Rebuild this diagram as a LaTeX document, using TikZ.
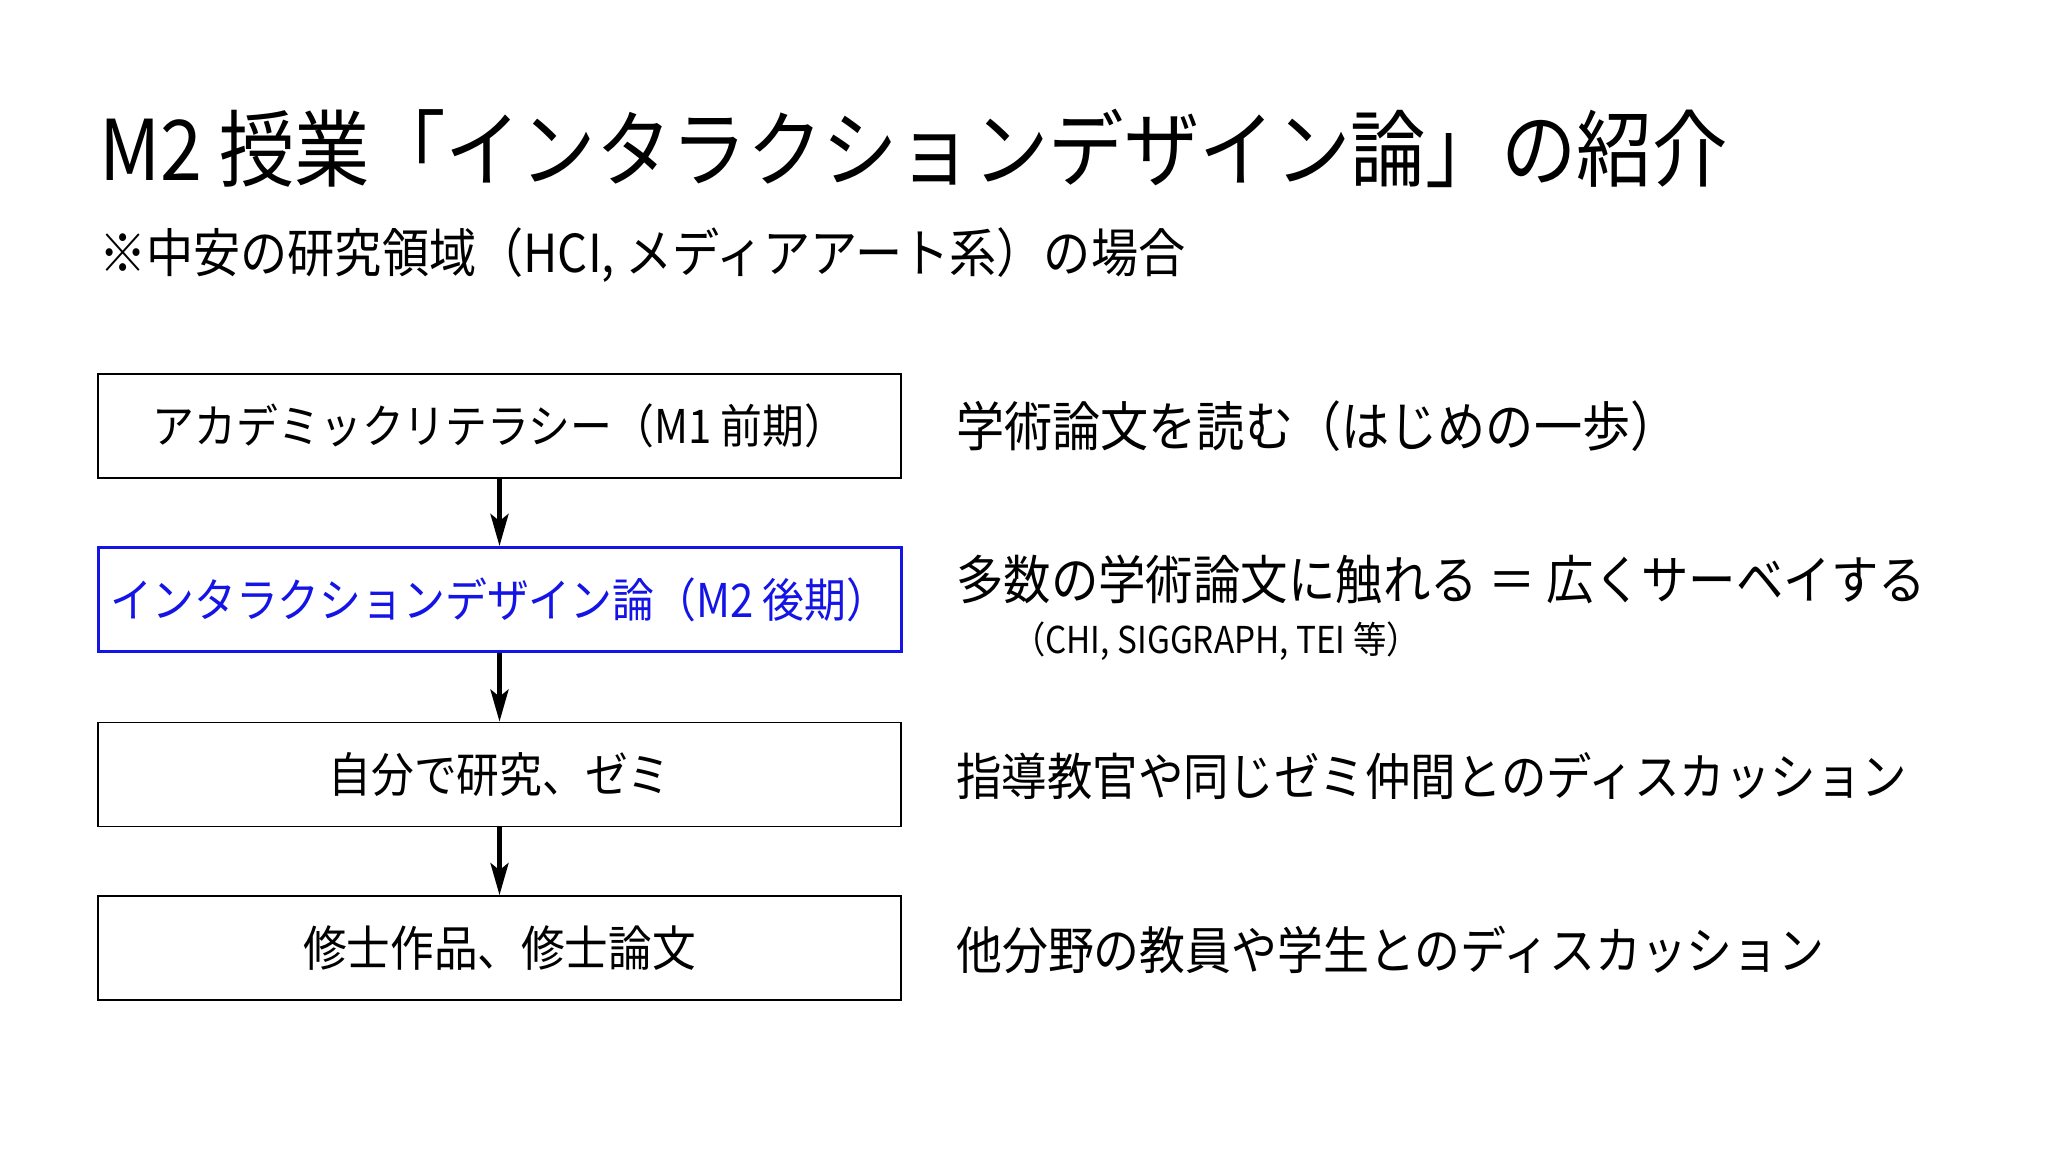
\documentclass[tikz,border=0pt]{standalone}
\usepackage{fontspec}
\setmainfont{Noto Sans CJK JP}[FakeStretch=0.9]
\usetikzlibrary{arrows.meta}
\definecolor{boxblue}{RGB}{20,20,230}
\newcommand{\fsz}[1]{\fontsize{#1}{#1}\selectfont}
\begin{document}
\begin{tikzpicture}[x=1pt,y=-1pt,
  stepbox/.style={draw=black, line width=1.8pt, minimum width=803pt, minimum height=104pt, inner sep=0pt, font=\fsz{46.5}},
  hibox/.style={stepbox, draw=boxblue, line width=3pt, text=boxblue},
  flow/.style={line width=4.5pt, -{Stealth[length=32pt,width=18pt,inset=7pt]}},
  note/.style={anchor=west, inner sep=0pt, font=\fsz{52}}
]
\useasboundingbox[fill=white] (0,0) rectangle (2048,1152);
\node[anchor=base west, inner sep=0pt, font=\fsz{83.8}] (title) at (99,180) {M2 授業「インタラクションデザイン論」の紹介};
\node[anchor=base west, inner sep=0pt, font=\fsz{52.4}] (sub) at (99,272) {※中安の研究領域（HCI, メディアアート系）の場合};

\node[stepbox] (b1) at (499.5,426) {アカデミックリテラシー（M1 前期）};
\node[hibox]   (b2) at (499.5,599.5) {インタラクションデザイン論（M2 後期）};
\node[stepbox, font=\fsz{47.5}] (b3) at (499.5,774.5) {自分で研究、ゼミ};
\node[stepbox, font=\fsz{48.5}] (b4) at (499.5,948) {修士作品、修士論文};

\draw[flow] (b1) -- (b2);
\draw[flow] (b2) -- (b3);
\draw[flow] (b3) -- (b4);

\node[note, font=\fsz{53.5}] (n1) at (956,426) {学術論文を読む（はじめの一歩）};
\node[note, font=\fsz{52.7}] (n2) at (956,579) {多数の学術論文に触れる ＝ 広くサーベイする};
\node[note, font=\fsz{37}] (n2b) at (1012,641) {（CHI, SIGGRAPH, TEI 等）};
\node[note, font=\fsz{50.5}] (n3) at (956,776) {指導教官や同じゼミ仲間とのディスカッション};
\node[note, font=\fsz{51}] (n4) at (956,950) {他分野の教員や学生とのディスカッション};
\end{tikzpicture}
\end{document}
